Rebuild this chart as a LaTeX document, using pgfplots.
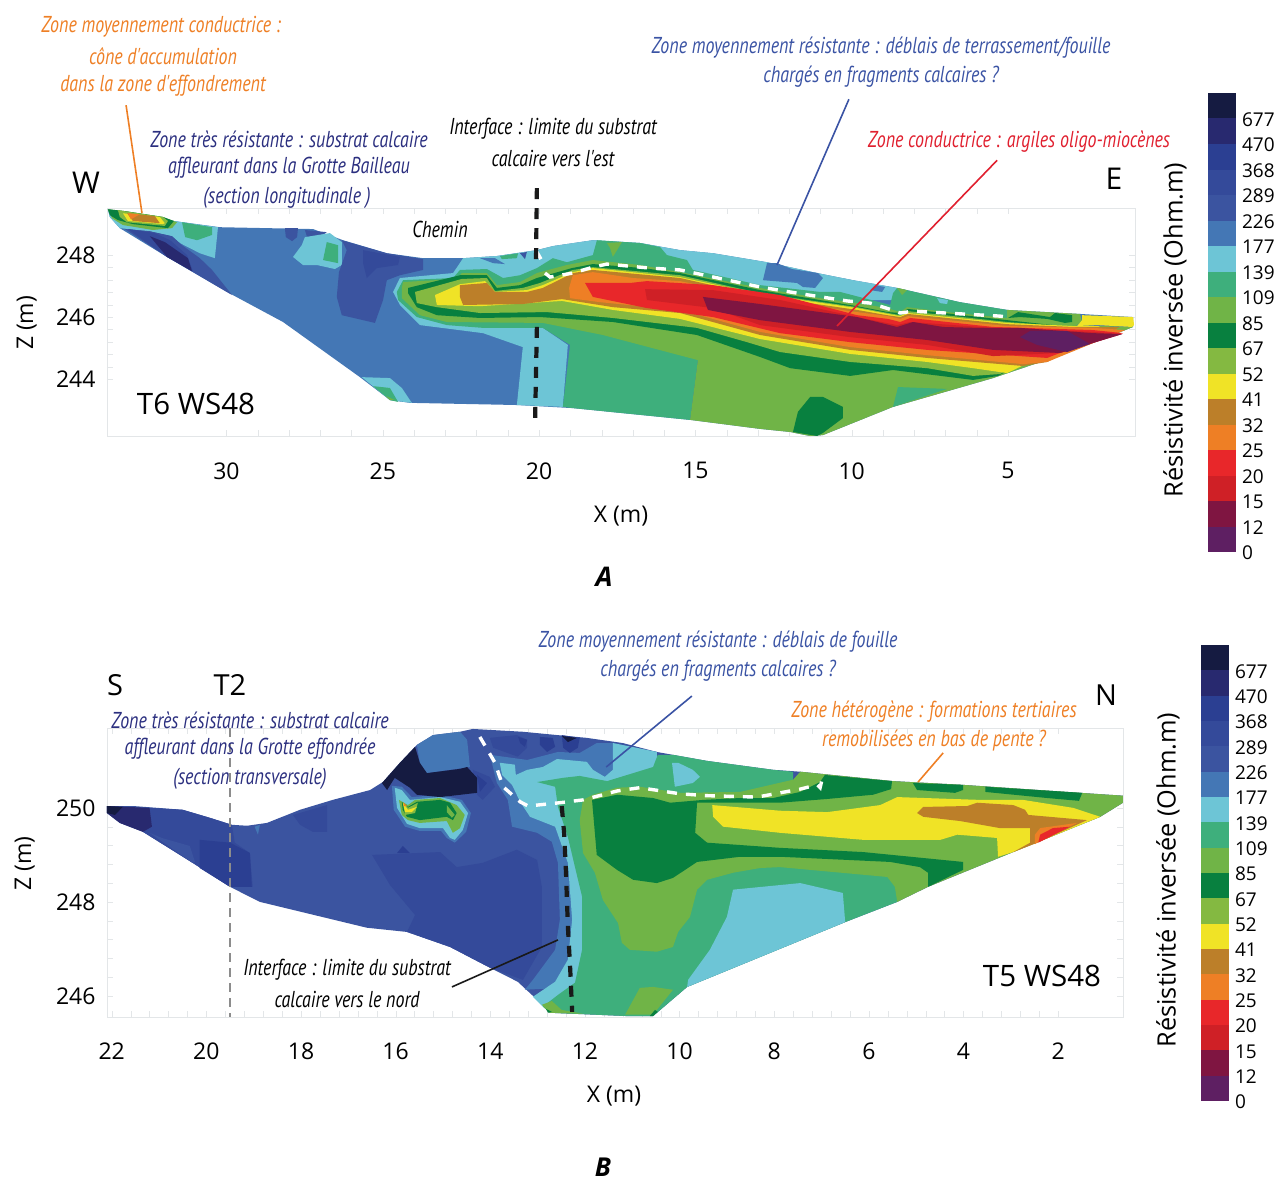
\documentclass[border=0pt]{standalone}
\usepackage{fontspec}
\usepackage{pgfplots}
\pgfplotsset{compat=1.18}
\setmainfont{Open Sans}
\newfontfamily\anfam[FakeStretch=0.78]{PT Sans}
\definecolor{ca}{HTML}{5E1F62}\definecolor{cb}{HTML}{7F1541}\definecolor{cc}{HTML}{CF2026}
\definecolor{cd}{HTML}{E8272A}\definecolor{ce}{HTML}{EE7F25}\definecolor{cf}{HTML}{BC7F29}
\definecolor{cg}{HTML}{F0E326}\definecolor{ch}{HTML}{84B941}\definecolor{ci}{HTML}{08803F}
\definecolor{cj}{HTML}{70B447}\definecolor{ck}{HTML}{3EAF7C}\definecolor{cl}{HTML}{6DC5D6}
\definecolor{cm}{HTML}{4477B5}\definecolor{cn}{HTML}{3B54A0}\definecolor{co}{HTML}{344A9A}
\definecolor{cp}{HTML}{2B3F92}\definecolor{cq}{HTML}{28296F}\definecolor{cr}{HTML}{151B41}
\definecolor{orangeT}{HTML}{EE7F25}\definecolor{navyT}{HTML}{2B2F7F}\definecolor{blueT}{HTML}{3A53A4}\definecolor{redT}{HTML}{E0202F}
\definecolor{frameC}{HTML}{E3E6E8}
\newcommand\Pg[2]{\addplot[fill=#1,draw=none,forget plot] coordinates {#2} --cycle;}
\newcommand\Ln[3]{\addplot[#1,forget plot] coordinates {#2 #3};}
\newcommand\An[4]{\node[text=#1,yshift=-2pt,font={\anfam\itshape\fontsize{23}{23}\selectfont}] at (#2pt,-#3pt) {#4};}
\newcommand\Tx[4]{\node[font={\fontsize{#1}{#1}\selectfont}] at (#2pt,-#3pt) {#4};}
\newcommand\CB{%
\Pg{ca}{(0,0)(1,0)(1,1)(0,1)}\Pg{cb}{(0,1)(1,1)(1,2)(0,2)}\Pg{cc}{(0,2)(1,2)(1,3)(0,3)}
\Pg{cd}{(0,3)(1,3)(1,4)(0,4)}\Pg{ce}{(0,4)(1,4)(1,5)(0,5)}\Pg{cf}{(0,5)(1,5)(1,6)(0,6)}
\Pg{cg}{(0,6)(1,6)(1,7)(0,7)}\Pg{ch}{(0,7)(1,7)(1,8)(0,8)}\Pg{ci}{(0,8)(1,8)(1,9)(0,9)}
\Pg{cj}{(0,9)(1,9)(1,10)(0,10)}\Pg{ck}{(0,10)(1,10)(1,11)(0,11)}\Pg{cl}{(0,11)(1,11)(1,12)(0,12)}
\Pg{cm}{(0,12)(1,12)(1,13)(0,13)}\Pg{cn}{(0,13)(1,13)(1,14)(0,14)}\Pg{co}{(0,14)(1,14)(1,15)(0,15)}
\Pg{cp}{(0,15)(1,15)(1,16)(0,16)}\Pg{cq}{(0,16)(1,16)(1,17)(0,17)}\Pg{cr}{(0,17)(1,17)(1,18)(0,18)}}
\pgfplotsset{panel/.style={scale only axis,x dir=reverse,clip=false,
 axis line style={frameC},tick style={frameC},tick align=inside,major tick length=6pt,minor tick length=6pt,
 /pgf/number format/assume math mode=true,/pgf/number format/1000 sep={},
 tick label style={font=\fontsize{23}{23}\selectfont,text=black}},
 cbar/.style={scale only axis,xmin=0,xmax=1,ymin=0,ymax=18,xtick=\empty,axis line style={draw=none},clip=false,
 ytick={0,...,17},yticklabels={0,12,15,20,25,32,41,52,67,85,109,139,177,226,289,368,470,677},
 yticklabel pos=right,major tick length=0pt,
 /pgf/number format/assume math mode=true,
 yticklabel style={font=\fontsize{19}{19}\selectfont,inner xsep=0pt,xshift=5.8pt,yshift=-1pt,anchor=west}}}
\begin{document}
\begin{tikzpicture}
\path (0pt,0pt) rectangle (1274pt,-1182pt);
% ---------------- PANEL A
\begin{axis}[panel,at={(107pt,-436pt)},anchor=south west,width=1028pt,height=228pt,
 xmin=0.94,xmax=33.82,ymin=242.16,ymax=249.52,xtick={5,10,...,30},ytick={244,246,248},
 minor x tick num=4,minor y tick num=4,
 xticklabel style={yshift=-23pt},yticklabel style={xshift=-8pt},
 xlabel={X (m)},ylabel={Z (m)},
 every axis x label/.style={at={(axis description cs:0.5,-0.351)},anchor=center,font=\fontsize{23}{23}\selectfont},
 every axis y label/.style={at={(axis description cs:-0.078,0.496)},anchor=center,rotate=90,font=\fontsize{23}{23}\selectfont}]
\Pg{cm}{(33.79,249.48)(31.90,249.13)(30.21,248.90)(27.23,248.84)(26.27,248.48)(24.87,248.06)(23.71,247.90)(22.43,247.90)(21.35,247.97)(20.07,248.16)(19.56,248.29)(18.28,248.48)(16.77,248.39)(15.49,248.16)(14.44,248.06)(12.71,247.77)(11.11,247.42)(9.96,247.19)(8.55,246.94)(6.54,246.48)(5.03,246.23)(2.70,246.10)(1.00,246.00)(1.00,245.68)(3.11,244.84)(5.48,244.03)(8.68,243.10)(10.92,242.19)(11.33,242.16)(11.97,242.29)(12.93,242.39)(15.17,242.68)(18.92,243.06)(20.71,243.16)(24.13,243.23)(24.77,243.32)(25.73,244.06)(28.19,245.84)(29.98,246.81)(31.90,247.94)(33.41,248.87)(33.73,249.23)}
\Pg{cl}{(33.73,249.23)(33.41,248.87)(32.45,248.77)(31.74,248.61)(31.49,248.39)(30.85,248.06)(30.37,247.90)(30.27,248.90)(31.90,249.13)(33.79,249.48)}
\Pg{ck}{(31.42,249.06)(30.46,248.90)(30.46,248.65)(30.94,248.48)(31.32,248.58)}
\Pg{cn}{(33.25,248.84)(32.45,248.77)(31.74,248.61)(31.42,248.32)(30.85,247.90)(30.46,247.52)(29.82,246.71)(31.90,247.94)}
\Pg{co}{(33.15,248.84)(32.29,248.71)(31.80,248.48)(31.26,248.00)(31.07,247.48)(31.90,247.94)}
\Pg{cq}{(32.45,248.61)(31.97,248.42)(31.23,247.90)(31.10,247.48)(31.90,247.94)}
\Pg{cj}{(33.79,249.48)(33.25,249.42)(32.03,249.23)(31.58,249.06)(31.74,248.87)(32.35,248.81)(33.31,248.97)(33.66,249.19)}
\Pg{ci}{(33.79,249.48)(33.25,249.42)(32.03,249.23)(31.68,249.10)(31.87,248.87)(32.99,249.00)(33.47,249.13)(33.73,249.29)}
\Pg{ch}{(33.47,249.45)(32.03,249.23)(31.87,249.10)(31.97,248.94)(33.18,249.06)(33.41,249.23)}
\Pg{cg}{(33.31,249.35)(32.13,249.23)(31.97,249.03)(32.03,249.00)(33.15,249.10)}
\Pg{cf}{(33.18,249.35)(32.29,249.26)(32.13,249.03)(32.99,249.10)}
\Pg{ce}{(33.15,249.35)(32.77,249.32)(32.99,249.19)(33.06,249.16)}
\Pg{cn}{(28.13,248.87)(27.71,248.87)(27.74,248.58)(27.90,248.45)(28.10,248.58)}
\Pg{cn}{(27.49,248.81)(26.79,248.74)(27.01,248.61)(27.42,248.58)}
\Pg{cl}{(27.49,248.58)(26.69,248.71)(26.31,248.42)(26.31,247.68)(26.53,247.55)(27.11,247.68)(27.55,247.68)(27.87,247.94)(27.59,248.32)}
\Pg{ck}{(26.79,248.42)(26.43,248.32)(26.43,247.74)(26.91,247.84)}
\Pg{cn}{(26.31,248.48)(24.87,248.06)(23.71,247.87)(23.71,247.52)(24.45,247.35)(24.87,247.19)(24.99,246.55)(25.25,245.81)(26.31,246.06)(26.47,246.65)(26.40,247.45)(26.15,248.16)}
\Pg{co}{(25.63,248.16)(24.45,247.94)(24.51,247.68)(25.19,247.58)(25.51,247.26)(25.63,247.74)}
\Pg{cl}{(25.67,244.06)(24.77,244.03)(24.39,243.71)(24.07,243.23)(24.77,243.32)}
\Pg{ck}{(25.31,243.77)(24.77,243.71)(24.51,243.26)(24.77,243.32)}
\Pg{cj}{(24.90,243.45)(24.61,243.32)(24.77,243.32)}
% main body right
\Pg{cl}{(24.67,246.81)(24.45,247.26)(22.75,247.42)(22.43,247.90)(21.35,247.97)(20.07,248.16)(19.56,248.29)(18.28,248.48)(16.77,248.39)(15.49,248.16)(14.44,248.06)(12.71,247.77)(11.11,247.42)(9.96,247.19)(8.55,246.94)(8.55,246.55)(10.05,246.55)(14.85,246.55)(19.88,245.65)(19.08,245.10)(19.24,243.10)(20.71,243.16)(20.52,245.03)(21.79,245.48)(23.81,245.74)(24.45,246.39)}
\Pg{cm}{(21.89,247.90)(21.41,247.90)(21.09,247.71)(21.47,247.74)}
\Pg{ck}{(21.25,247.97)(20.67,248.06)(20.71,247.90)(21.19,247.87)}
\Pg{cn}{(20.61,248.06)(20.39,248.10)(20.45,247.87)}
\Pg{ck}{(24.55,246.81)(24.35,247.19)(22.75,247.26)(22.53,247.52)(21.67,247.55)(21.15,247.26)(20.61,247.35)(20.07,247.58)(19.56,247.90)(19.11,247.77)(18.28,248.00)(18.15,248.48)(16.77,248.39)(16.13,248.26)(15.91,248.00)(15.27,247.84)(15.08,247.52)(12.93,247.03)(11.01,246.81)(10.37,246.81)(8.77,246.39)(8.68,246.77)(8.55,246.94)(6.54,246.48)(5.03,246.23)(5.03,245.90)(10.05,245.90)(14.85,245.26)(14.92,244.61)(15.17,242.68)(18.92,243.06)(19.24,243.10)(19.01,245.10)(19.88,245.65)(21.79,245.65)(22.95,245.74)(23.91,246.00)(24.51,246.55)}
\Pg{cj}{(17.83,248.39)(17.35,248.42)(17.64,247.94)(17.73,248.23)}
\Pg{cj}{(8.55,246.94)(8.23,246.87)(8.39,246.71)}
\Pg{cl}{(7.27,246.61)(6.92,246.55)(6.95,246.42)(7.18,246.45)}
\Pg{cm}{(12.84,247.19)(12.71,247.74)(12.39,247.74)(11.91,247.55)(11.08,247.42)(10.92,247.26)(11.17,246.94)(11.56,246.97)(11.75,247.10)}
\Pg{cm}{(9.41,246.87)(9.25,247.03)(8.93,246.97)(9.03,246.81)}
\Pg{cj}{(24.39,246.94)(24.35,247.13)(22.63,247.23)(22.47,247.42)(21.67,247.42)(21.35,247.03)(20.61,247.13)(20.07,247.42)(19.11,247.68)(18.28,247.84)(16.77,247.68)(15.49,247.45)(12.93,246.94)(11.01,246.61)(9.83,246.45)(8.87,246.29)(8.45,246.16)(8.23,246.32)(6.95,246.16)(5.03,245.97)(3.02,245.74)(1.00,245.68)(3.11,244.84)(5.48,244.03)(8.68,243.10)(10.92,242.19)(11.33,242.16)(11.97,242.29)(12.93,242.39)(15.17,242.68)(14.92,244.61)(17.96,245.42)(19.88,245.81)(22.95,245.84)(23.81,246.06)(24.39,246.61)}
\Pg{ck}{(8.52,243.74)(6.95,243.68)(8.68,243.10)}
\Pg{ci}{(11.33,243.42)(10.92,243.42)(10.28,243.10)(10.28,242.74)(10.92,242.26)(11.11,242.16)(11.88,242.29)(11.72,242.94)}
\Pg{cj}{(5.03,246.23)(2.70,246.10)(2.63,245.84)(2.86,245.71)(5.03,245.84)}
\Pg{ci}{(5.00,245.97)(4.68,246.16)(3.66,246.00)(3.50,246.13)(2.95,246.06)(2.95,245.84)(3.18,245.81)(3.75,245.94)(4.62,246.00)}
\Pg{cg}{(2.63,246.06)(1.80,246.03)(1.00,246.00)(0.97,245.74)(1.03,245.68)(2.15,245.74)(2.79,245.71)(2.63,245.90)}
\Pg{ci}{(24.19,246.94)(22.53,247.35)(21.67,247.35)(21.35,246.94)(20.61,247.03)(20.07,247.26)(18.95,247.58)(18.28,247.71)(16.68,247.58)(15.49,247.42)(12.93,246.87)(9.83,246.35)(8.84,246.16)(8.45,246.13)(8.20,246.26)(5.03,245.90)(3.02,245.68)(2.38,245.65)(5.32,244.10)(6.12,243.97)(8.68,244.29)(10.05,244.10)(11.97,244.35)(12.93,244.71)(14.95,245.42)(17.64,245.84)(19.97,246.00)(21.89,245.97)(23.27,246.06)(23.91,246.32)(24.19,246.77)}
\Pg{ch}{(23.97,246.81)(22.47,247.23)(21.67,247.26)(21.41,246.84)(20.52,246.94)(19.97,247.10)(18.92,247.52)(18.28,247.61)(15.49,247.35)(12.93,246.77)(9.83,246.32)(8.84,246.13)(8.45,246.06)(8.20,246.19)(5.03,245.84)(2.86,245.68)(2.38,245.65)(5.26,244.16)(6.12,244.10)(7.59,244.35)(10.05,244.55)(12.29,244.87)(13.35,245.19)(14.95,245.65)(17.64,245.97)(19.75,246.16)(21.89,246.13)(23.27,246.32)(23.91,246.45)}
\Pg{cg}{(23.33,246.71)(22.53,247.06)(21.73,247.16)(21.41,246.81)(20.39,246.87)(19.88,247.03)(18.92,247.45)(18.28,247.58)(15.49,247.29)(12.93,246.74)(9.83,246.29)(8.84,246.10)(8.45,246.03)(8.20,246.13)(5.03,245.81)(2.92,245.71)(2.06,245.71)(4.62,244.39)(5.03,244.19)(6.12,244.35)(7.59,244.55)(10.05,244.81)(12.93,245.29)(15.49,245.94)(17.64,246.23)(19.27,246.52)(21.89,246.35)(23.27,246.39)}
\Pg{cf}{(22.53,247.03)(21.67,247.10)(21.41,246.81)(20.39,246.81)(19.88,246.94)(18.92,247.42)(18.28,247.52)(15.49,247.26)(12.93,246.68)(9.83,246.23)(8.87,246.06)(8.45,246.00)(8.20,246.10)(5.03,245.77)(2.92,245.68)(1.42,245.68)(3.75,244.55)(4.52,244.42)(7.59,244.68)(10.05,244.94)(12.93,245.42)(15.49,246.13)(17.64,246.32)(19.27,246.58)(20.52,246.42)(22.43,246.39)(22.53,246.65)}
\Pg{ce}{(19.04,246.94)(18.92,247.35)(18.28,247.45)(17.00,247.26)(15.49,247.16)(12.93,246.61)(9.83,246.16)(8.84,246.03)(8.45,245.94)(8.20,246.03)(5.03,245.71)(2.28,245.65)(1.26,245.58)(3.75,244.55)(4.52,244.48)(7.59,244.77)(10.05,245.03)(12.93,245.52)(15.49,246.23)(18.05,246.48)(19.01,246.61)}
\Pg{cd}{(18.53,247.10)(17.09,247.10)(16.55,247.16)(14.44,247.03)(12.29,246.71)(9.83,246.06)(8.84,245.94)(8.45,245.84)(8.13,245.97)(5.48,245.68)(2.28,245.58)(1.32,245.48)(3.34,244.84)(3.75,244.68)(7.59,244.94)(10.05,245.19)(12.29,245.48)(14.44,246.00)(16.55,246.29)(18.28,246.65)}
\Pg{cc}{(16.61,246.90)(14.44,246.87)(12.29,246.55)(9.83,246.00)(8.55,245.74)(8.13,245.84)(5.48,245.65)(2.28,245.52)(1.35,245.45)(3.34,244.84)(5.48,244.74)(7.59,245.10)(10.05,245.35)(12.93,245.74)(14.44,246.29)(16.55,246.55)}
\Pg{cb}{(14.76,246.65)(12.93,246.42)(9.83,246.00)(8.55,245.68)(8.04,245.84)(7.08,245.68)(5.99,245.65)(4.62,245.65)(2.28,245.48)(1.35,245.45)(3.34,244.84)(5.48,244.94)(7.59,245.26)(10.05,245.52)(12.93,245.90)(14.60,246.23)}
\Pg{ca}{(4.62,245.35)(4.30,245.55)(3.11,245.55)(2.38,245.13)(3.11,244.87)(4.07,245.10)}
% lines
\Ln{orangeT,line width=1.6pt}{(33.21,252.84)}{(32.70,249.35)}
\Ln{blueT,line width=1.6pt}{(10.09,253.03)}{(12.39,247.68)}
\Ln{redT,line width=1.6pt}{(5.35,251.06)}{(10.47,245.71)}
\addplot[white,line width=3.4pt,dash pattern=on 10pt off 9pt,forget plot] coordinates {(20.07,248.10)(19.94,247.87)};
\addplot[white,line width=3.4pt,dash pattern=on 10pt off 9pt,forget plot] coordinates {(19.81,247.42)(19.65,247.29)(18.92,247.42)(18.28,247.61)(17.83,247.71)(16.45,247.58)(15.49,247.52)(12.93,246.97)(11.56,246.74)(10.15,246.52)(9.41,246.45)(8.71,246.23)(8.45,246.13)(8.04,246.19)(5.26,246.03)(5.03,246.00)};
\addplot[black!90,line width=4.2pt,dash pattern=on 11pt off 9pt,forget plot] coordinates {(20.07,250.16)(20.10,247.68)};
\addplot[black!90,line width=4.2pt,dash pattern=on 11pt off 9pt,forget plot] coordinates {(20.07,245.68)(20.13,242.52)};
\end{axis}
% ---------------- PANEL B
\begin{axis}[panel,at={(107pt,-1017pt)},anchor=south west,width=1016pt,height=289pt,
 xmin=0.63,xmax=22.10,ymin=245.55,ymax=251.70,xtick={2,4,...,22},ytick={246,248,250},
 minor x tick num=4,minor y tick num=4,
 xticklabel style={yshift=-22pt},yticklabel style={xshift=-8pt},
 xlabel={X (m)},ylabel={Z (m)},
 every axis x label/.style={at={(axis description cs:0.499,-0.273)},anchor=center,font=\fontsize{23}{23}\selectfont},
 every axis y label/.style={at={(axis description cs:-0.081,0.53)},anchor=center,rotate=90,font=\fontsize{23}{23}\selectfont}]
\Pg{cn}{(22.10,250.04)(21.55,250.04)(20.50,249.96)(19.93,249.79)(19.46,249.64)(19.14,249.62)(18.72,249.68)(18.02,249.96)(17.33,250.17)(16.54,250.38)(16.27,250.55)(15.91,250.96)(15.55,251.34)(15.21,251.55)(14.64,251.62)(14.37,251.68)(13.31,251.62)(12.59,251.55)(11.96,251.49)(11.20,251.38)(10.48,251.19)(9.42,251.00)(8.02,250.81)(7.45,250.77)(5.49,250.57)(4.01,250.49)(1.53,250.32)(0.63,250.26)(0.63,250.11)(1.11,249.81)(2.95,249.06)(4.75,248.32)(5.40,248.00)(6.50,247.57)(7.88,247.00)(9.84,246.19)(10.56,245.57)(11.11,245.57)(12.74,245.64)(12.95,245.85)(13.12,246.02)(13.42,246.30)(14.01,246.60)(14.85,247.04)(15.76,247.36)(16.61,247.45)(18.87,248.00)(19.50,248.32)(20.29,248.83)(21.34,249.49)(21.83,249.68)(22.10,249.89)}
\Pg{co}{(16.50,249.00)(15.06,249.06)(14.71,248.74)(14.16,248.83)(13.44,249.11)(13.01,248.89)(12.91,248.32)(12.91,247.04)(13.31,246.34)(14.01,246.60)(14.85,247.04)(15.76,247.36)(15.59,247.72)(16.12,248.36)}
\Pg{co}{(18.17,249.85)(17.45,250.06)(17.45,249.49)(17.75,249.49)(18.02,249.64)}
\Pg{co}{(21.20,250.00)(20.50,249.96)(19.93,249.79)(19.46,249.64)(19.40,249.26)(19.08,249.04)(19.02,248.32)(19.50,248.32)(20.29,248.83)(21.34,249.49)(21.15,249.60)}
\Pg{cn}{(21.20,249.47)(20.94,249.36)(20.35,249.19)(20.24,248.85)(20.29,248.83)}
\Pg{cp}{(20.14,249.32)(19.50,249.26)(19.08,249.04)(19.04,248.32)(19.50,248.32)(20.14,248.72)}
\Pg{cq}{(22.10,250.04)(21.20,250.00)(21.15,249.60)(21.34,249.49)(21.83,249.68)(22.10,249.89)}
\Pg{cr}{(22.10,250.04)(21.77,250.02)(21.93,249.85)(22.10,249.89)}
\Pg{cm}{(18.98,249.60)(18.87,249.64)(18.91,249.43)}
\Pg{cp}{(15.97,249.04)(15.85,249.19)(15.70,249.04)}
\Pg{cm}{(14.01,251.13)(13.22,251.02)(12.57,251.19)(12.11,251.17)(11.75,251.38)(11.41,251.38)(10.48,251.19)(10.48,250.11)(12.11,246.19)(13.27,246.13)(13.10,246.34)(12.63,246.98)(12.53,247.62)(12.57,248.83)(12.70,249.28)(13.01,249.47)(13.54,249.60)(13.63,250.17)(13.86,250.53)}
\Pg{cm}{(15.55,251.34)(15.21,251.55)(14.64,251.62)(14.49,251.45)(14.43,250.87)(15.34,250.74)(15.49,250.96)}
\Pg{co}{(14.37,250.81)(14.01,250.66)(13.90,250.45)(14.16,250.17)(14.28,250.28)}
\Pg{cp}{(14.28,250.70)(14.07,250.53)(14.22,250.34)}
\Pg{co}{(14.01,251.49)(13.44,251.55)(13.22,251.45)(13.22,251.28)(13.42,251.09)(13.94,251.28)}
\Pg{cp}{(13.41,251.51)(13.22,251.45)(13.27,251.30)(13.37,251.38)}
\Pg{cp}{(12.95,251.51)(12.68,251.49)(12.63,251.30)(12.80,251.19)(12.95,251.34)}
\Pg{cp}{(12.49,251.55)(12.11,251.49)(12.15,251.28)(12.32,251.17)(12.46,251.28)}
\Pg{cr}{(12.49,251.53)(12.17,251.49)(12.36,251.40)}
\Pg{cl}{(11.41,251.38)(10.48,251.19)(10.41,248.04)(10.84,245.70)(12.89,245.77)(13.10,245.98)(12.63,246.30)(12.36,246.77)(12.27,247.62)(12.36,248.83)(12.63,249.60)(13.16,249.81)(13.37,250.13)(13.54,250.49)(13.75,250.70)(13.80,250.96)(13.48,250.92)(13.46,250.70)(13.22,250.81)(12.89,250.87)(12.59,251.04)(11.96,250.98)(11.83,250.81)(11.58,250.66)(11.41,250.81)}
\Pg{ck}{(13.01,250.55)(12.46,250.64)(12.11,250.68)(11.53,250.57)(10.56,250.87)(10.46,251.13)(10.14,251.13)(9.42,251.00)(8.02,250.81)(7.60,250.77)(7.60,250.60)(7.45,250.17)(5.34,248.47)(5.40,248.00)(6.50,247.57)(7.88,247.00)(9.84,246.19)(10.56,245.57)(11.11,245.57)(12.74,245.64)(12.89,245.77)(12.57,246.02)(12.21,246.28)(12.06,246.98)(12.06,248.11)(12.21,248.74)(12.36,249.38)(12.57,250.02)(12.63,250.45)}
\Pg{cl}{(9.84,246.19)(9.82,246.34)(9.36,246.98)(9.00,247.68)(8.87,248.26)(7.45,248.40)(6.55,248.19)(6.50,247.57)(7.88,247.00)}
\Pg{cl}{(10.16,250.96)(10.03,250.96)(9.72,250.81)(9.57,250.66)(9.72,250.53)(10.10,250.45)}
\Pg{cj}{(12.04,250.17)(11.83,250.28)(11.32,250.43)(10.84,250.45)(9.99,250.32)(8.72,250.34)(7.60,250.60)(7.45,250.77)(5.49,250.57)(4.01,250.49)(1.53,250.32)(0.63,250.26)(0.63,250.11)(1.11,249.81)(2.95,249.06)(4.75,248.32)(5.40,248.00)(5.45,248.32)(5.61,248.53)(7.88,248.74)(8.30,248.72)(8.87,248.62)(9.42,248.47)(9.63,248.26)(9.78,247.68)(10.03,247.36)(10.14,247.04)(10.48,246.94)(11.05,246.98)(11.22,247.13)(11.30,247.55)(11.62,248.04)(11.79,248.62)(12.04,249.04)(12.11,249.74)}
\Pg{cj}{(11.15,245.60)(10.84,246.17)(10.56,246.19)(10.14,246.13)(10.56,245.60)}
\Pg{cj}{(12.91,245.81)(12.70,245.89)(12.49,245.70)(12.04,245.62)(12.74,245.64)}
\Pg{ci}{(12.82,245.72)(12.70,245.66)(12.78,245.64)}
\Pg{ci}{(10.63,245.57)(10.52,245.70)(10.46,245.66)(10.56,245.57)}
\Pg{ci}{(11.85,250.17)(11.32,250.28)(10.56,250.21)(10.20,250.11)(9.50,250.17)(8.72,250.21)(8.02,250.21)(7.45,250.34)(7.03,250.55)(6.93,250.70)(5.51,250.57)(5.53,250.40)(5.91,250.28)(6.88,250.19)(7.88,250.11)(9.63,250.11)(9.67,249.47)(9.42,249.26)(7.88,249.15)(6.12,249.06)(4.01,248.85)(4.01,248.68)(4.75,248.32)(4.75,248.62)(4.92,248.74)(5.55,248.85)(7.88,248.96)(8.72,248.96)(9.63,248.85)(10.14,248.51)(10.48,248.40)(10.98,248.47)(11.32,248.68)(11.75,249.00)}
\Pg{ci}{(5.07,250.53)(4.01,250.49)(4.01,250.38)(4.18,250.32)(4.98,250.38)}
\Pg{ci}{(3.54,250.45)(1.49,250.32)(1.56,250.15)(2.23,250.21)(3.54,250.34)}
\Pg{cg}{(9.31,250.06)(7.88,249.94)(6.88,249.91)(5.76,250.06)(5.40,250.23)(3.65,250.17)(2.74,250.17)(1.68,250.00)(1.11,249.81)(2.95,249.06)(3.27,248.96)(3.29,249.36)(4.13,249.43)(4.49,249.32)(6.12,249.32)(7.88,249.47)(9.08,249.60)(9.29,249.81)}
\Pg{cf}{(4.98,249.89)(4.85,250.02)(3.92,250.04)(3.71,250.11)(2.95,250.06)(2.70,249.96)(2.63,249.85)(1.39,249.74)(2.44,249.26)(2.95,249.06)(2.59,249.26)(2.59,249.57)(3.23,249.57)(4.07,249.72)(4.85,249.81)}
\Pg{ce}{(2.49,249.23)(2.49,249.43)(2.38,249.57)(1.60,249.68)(2.44,249.26)}
\Pg{cd}{(2.42,249.26)(2.38,249.43)(2.11,249.57)(1.75,249.60)}
% inclusion
\Pg{cm}{(16.08,250.47)(15.87,250.45)(15.66,250.23)(15.06,250.28)(14.60,250.17)(14.41,249.89)(14.51,249.49)(14.75,249.26)(14.92,249.36)(15.04,249.51)(15.49,249.51)(15.80,249.60)(16.04,249.96)}
\Pg{cl}{(16.02,250.43)(15.87,250.38)(15.70,250.17)(15.06,250.23)(14.64,250.13)(14.47,249.89)(14.58,249.53)(14.75,249.32)(14.85,249.36)(15.00,249.57)(15.49,249.57)(15.76,249.66)(15.97,250.00)}
\Pg{cj}{(15.93,250.17)(15.74,250.06)(15.59,250.17)(15.06,250.21)(14.71,250.06)(14.54,249.85)(14.64,249.57)(14.79,249.47)(14.92,249.72)(15.49,249.68)(15.74,249.74)(15.87,249.85)}
\Pg{ci}{(15.87,250.13)(15.74,250.02)(15.55,250.13)(15.06,250.17)(14.85,250.11)(14.71,249.89)(14.79,249.74)(14.92,249.81)(15.49,249.74)(15.76,249.81)(15.85,249.96)}
\Pg{cj}{(14.92,250.06)(14.75,249.85)(14.81,249.79)(14.92,249.91)}
\Pg{ch}{(15.85,250.13)(15.74,250.00)(15.53,250.11)(15.59,249.89)(15.80,249.85)}
\Pg{cg}{(15.85,250.11)(15.74,249.96)(15.55,250.02)(15.66,249.91)(15.80,249.91)}
\Pg{ce}{(15.83,250.11)(15.76,250.04)(15.83,250.04)}
\Pg{cr}{(16.27,250.55)(15.91,250.96)(15.59,251.30)(15.49,250.96)(15.34,250.74)(14.64,250.83)(14.49,250.87)(14.28,250.64)(14.28,250.32)(15.06,250.23)(15.55,250.28)(15.70,250.43)(16.02,250.64)(16.18,250.38)(16.29,250.53)}
% lines
\addplot[black!45,line width=1.2pt,dash pattern=on 9pt off 6pt,forget plot] coordinates {(19.5,251.70)(19.5,245.55)};
\Ln{black!90,line width=1.6pt}{(12.57,247.19)}{(14.81,246.19)}
\Ln{blueT,line width=1.6pt}{(9.74,252.38)}{(11.55,250.87)}
\Ln{orangeT,line width=1.6pt}{(4.43,251.17)}{(4.96,250.55)}
\addplot[white,line width=3.4pt,dash pattern=on 10pt off 9pt,forget plot] coordinates {(14.22,251.51)(13.90,250.96)(13.73,250.45)(13.37,250.13)(13.20,250.04)(12.53,250.11)(12.04,250.17)(11.32,250.36)(10.84,250.43)(9.99,250.30)(9.42,250.26)(8.36,250.23)(7.45,250.40)(7.09,250.49)(7.03,250.43)(6.99,250.60)};
\addplot[black!90,line width=4.2pt,dash pattern=on 11pt off 9pt,forget plot] coordinates {(12.49,250.04)(12.44,249.47)(12.40,248.62)(12.36,247.47)(12.31,246.55)(12.27,245.66)};
\end{axis}
% ---------------- colour bars
\begin{axis}[cbar,at={(1208pt,-552pt)},anchor=south west,width=28pt,height=459pt]
\CB
\end{axis}
\begin{axis}[cbar,at={(1201pt,-1101pt)},anchor=south west,width=28pt,height=456pt]
\CB
\end{axis}
\node[rotate=90,font=\fontsize{25.3}{25}\selectfont] at (1175pt,-330pt) {Résistivité inversée (Ohm.m)};
\node[rotate=90,font=\fontsize{25.3}{25}\selectfont] at (1168pt,-880pt) {Résistivité inversée (Ohm.m)};
% ---------------- annotations A
\An{orangeT}{161}{25}{Zone moyennement conductrice :}
\An{orangeT}{163}{54}{cône d'accumulation}
\An{orangeT}{163}{84}{dans la zone d'effondrement}
\An{navyT}{289}{137}{Zone très résistante : substrat calcaire}
\An{navyT}{289}{166}{affleurant dans la Grotte Bailleau}
\An{navyT}{287}{196}{(section longitudinale )}
\An{black}{553}{127}{Interface : limite du substrat}
\An{black}{553}{156}{calcaire vers l'est}
\An{blueT}{881}{46}{Zone moyennement résistante : déblais de terrassement/fouille}
\An{blueT}{881}{75}{chargés en fragments calcaires ?}
\An{redT}{1019}{140}{Zone conductrice : argiles oligo-miocènes}
\An{black}{440}{227}{Chemin}
\Tx{30}{86}{183}{W}
\Tx{30}{1114}{179}{E}
\Tx{29.5}{196}{404}{T6 WS48}
\node[font={\bfseries\itshape\fontsize{27}{27}\selectfont}] at (604pt,-577pt) {A};
% ---------------- annotations B
\Tx{29}{115}{685}{S}
\Tx{29}{230}{685}{T2}
\Tx{29}{1106}{695}{N}
\Tx{29.5}{1042}{976}{T5 WS48}
\node[font={\bfseries\itshape\fontsize{26}{26}\selectfont},inner sep=0pt] at (603pt,-1167pt) {B};
\An{navyT}{250}{718}{Zone très résistante : substrat calcaire}
\An{navyT}{250}{747}{affleurant dans la Grotte effondrée}
\An{navyT}{250}{777}{(section transversale)}
\An{blueT}{718}{640}{Zone moyennement résistante : déblais de fouille}
\An{blueT}{718}{669}{chargés en fragments calcaires ?}
\An{orangeT}{934}{710}{Zone hétérogène : formations tertiaires}
\An{orangeT}{934}{739}{remobilisées en bas de pente ?}
\An{black}{347}{968}{Interface : limite du substrat}
\An{black}{347}{997}{calcaire vers le nord}
\pgfresetboundingbox
\path[use as bounding box] (0pt,0pt) rectangle (1274pt,-1182pt);
\end{tikzpicture}
\end{document}
